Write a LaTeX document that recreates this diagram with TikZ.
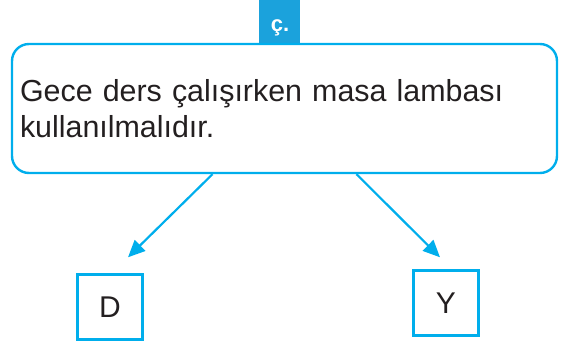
\documentclass[tikz,border=0pt]{standalone}
\usepackage{fontspec}
\setmainfont{Liberation Sans}
\usetikzlibrary{arrows.meta}
\definecolor{cyanline}{RGB}{0,174,236}
\definecolor{cyantab}{RGB}{27,162,220}
\definecolor{inkgray}{RGB}{35,31,32}
\begin{document}
\begin{tikzpicture}[x=1pt,y=-1pt,>={Triangle[length=17pt,width=15pt]},
  bigbox/.style={draw=cyanline,line width=2.4pt,rounded corners=17pt,minimum width=545pt,
    minimum height=129pt,inner xsep=8pt,text width=529pt,align=left,text=inkgray,
    font=\fontsize{30.4}{36}\selectfont},
  ansbox/.style={draw=cyanline,line width=2.4pt,minimum width=65pt,minimum height=65pt,
    text=inkgray,font=\fontsize{30}{30}\selectfont},
  link/.style={draw=cyanline,line width=2.2pt,->}]
 \useasboundingbox (0,0) rectangle (568,345);
 \fill[cyantab] (259,0) rectangle (300,44);
 \node[text=white,font=\fontsize{22}{22}\selectfont\bfseries,anchor=base] (tag) at (280,32) {ç.};
 \node[bigbox] (main) at (284.5,108.5) {Gece ders çalışırken masa lambası\\kullanılmalıdır.};
 \node[ansbox] (d) at (110,307) {D};
 \node[ansbox] (y) at (446,303) {Y};
 \draw[link] ([xshift=-72pt]main.south) -- ([xshift=18pt,yshift=16pt]d.north);
 \draw[link] ([xshift=72pt]main.south) -- ([xshift=-6pt,yshift=12pt]y.north);
\end{tikzpicture}
\end{document}
